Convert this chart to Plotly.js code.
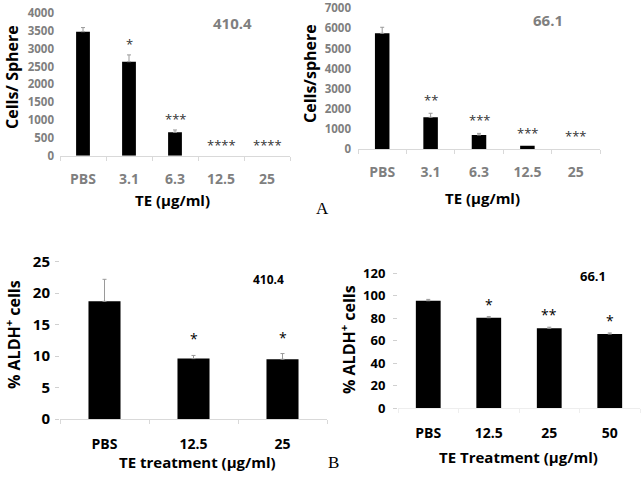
<!DOCTYPE html>
<html><head><meta charset="utf-8">
<script src="https://cdn.plot.ly/plotly-3.0.1.min.js"></script>
<style>html,body{margin:0;padding:0;background:#fff}</style>
</head><body><div id="chart" style="width:643px;height:478px"></div>
<script>
// ---- data ----
const catsA1 = ['PBS', '3.1', '6.3', '12.5', '25'];
const cellsA1 = [3476, 2635, 656, 0, 0];
const errA1 = [115, 190, 65, 0, 0];
const sigA1 = ['', '*', '***', '****', '****'];

const catsA2 = ['PBS', '3.1', '6.3', '12.5', '25'];
const cellsA2 = [5756, 1577, 697, 166, 0];
const errA2 = [300, 200, 80, 0, 0];
const sigA2 = ['', '**', '***', '***', '***'];

const catsB1 = ['PBS', '12.5', '25'];
const aldhB1 = [18.7, 9.6, 9.5];
const errB1 = [3.5, 0.5, 0.9];
const sigB1 = ['', '*', '*'];

const catsB2 = ['PBS', '12.5', '25', '50'];
const aldhB2 = [95.6, 80.5, 71.1, 66.0];
const errB2 = [1.2, 1, 1, 1];
const sigB2 = ['', '*', '**', '*'];

// ---- helpers ----
const W = 643, H = 478;
const fx = x => x / W;
const fy = y => 1 - y / H;
const FONT = 'Open Sans';
const GRAY = '#7f7f7f';

function barTrace(cats, vals, errs, xa, ya, width) {
  return {
    type: 'bar', x: cats, y: vals, xaxis: xa, yaxis: ya, width: width,
    marker: {color: '#000'},
    error_y: {type: 'data', array: errs.map(e => e > 0 ? e : NaN), symmetric: false,
      arrayminus: errs.map(e => e > 0 ? 0 : NaN),
      color: '#9a9a9a', thickness: 1, width: 2},
    showlegend: false, hoverinfo: 'skip'
  };
}

function sigAnnots(cats, vals, errs, sigs, xr, yr, shift, size, color) {
  const out = [];
  cats.forEach((c, i) => {
    if (!sigs[i]) return;
    // category index is used so numeric-looking labels are not read as positions
    out.push({xref: xr, yref: yr, x: i, y: vals[i] + errs[i], text: sigs[i], showarrow: false,
      yanchor: 'bottom', yshift: shift, font: {family: FONT, size: size, color: color}});
  });
  return out;
}

function txt(text, x, y, size, color, opts) {
  return Object.assign({xref: 'paper', yref: 'paper', x: fx(x), y: fy(y), text: text, showarrow: false,
    xanchor: 'center', yanchor: 'middle', font: {family: FONT, size: size, color: color, weight: 'bold'}}, opts || {});
}

const data = [
  barTrace(catsA1, cellsA1, errA1, 'x', 'y', 0.30),
  barTrace(catsA2, cellsA2, errA2, 'x2', 'y2', 0.30),
  barTrace(catsB1, aldhB1, errB1, 'x3', 'y3', 0.36),
  barTrace(catsB2, aldhB2, errB2, 'x4', 'y4', 0.41)
];

function xax(d, anchor, n, fsize, fcolor, standoff, linecolor) {
  return {domain: d, anchor: anchor, type: 'category', range: [-0.5, n - 0.5],
    showline: true, linecolor: linecolor, linewidth: 1,
    ticks: 'outside', tickson: 'boundaries', ticklen: 4, tickcolor: linecolor,
    tickfont: {family: FONT, size: fsize, color: fcolor, weight: 'bold'}, ticklabelstandoff: standoff,
    tickangle: 0, showgrid: false, zeroline: false, fixedrange: true};
}
function yax(d, anchor, range, dtick, fsize, fcolor, ticks, standoff) {
  return {domain: d, anchor: anchor, range: range, dtick: dtick, showline: false, showgrid: false, zeroline: false,
    ticks: ticks ? 'outside' : '', ticklen: 4, tickcolor: '#d0d0d0', ticklabelstandoff: standoff,
    tickfont: {family: FONT, size: fsize, color: fcolor, weight: 'bold'}, fixedrange: true};
}

const layout = {
  width: W, height: H, margin: {l: 0, r: 0, t: 0, b: 0},
  paper_bgcolor: '#fff', plot_bgcolor: 'rgba(0,0,0,0)',
  showlegend: false,
  xaxis: xax([fx(60), fx(290)], 'y', catsA1.length, 14, GRAY, 10, '#d9d9d9'),
  yaxis: yax([fy(155.7), fy(13)], 'x', [0, 4000], 500, 11.5, GRAY, false, 5),
  xaxis2: xax([fx(358), fx(600)], 'y2', catsA2.length, 14, GRAY, 10, '#d9d9d9'),
  yaxis2: yax([fy(149), fy(8.3)], 'x2', [0, 7000], 1000, 11.5, GRAY, false, 6),
  xaxis3: xax([fx(60), fx(327)], 'y3', catsB1.length, 14, '#000', 12, '#d9d9d9'),
  yaxis3: yax([fy(419), fy(261.7)], 'x3', [0, 25], 5, 15, '#000', true, 2),
  xaxis4: xax([fx(398), fx(640)], 'y4', catsB2.length, 14, '#000', 12, '#eeeeee'),
  yaxis4: yax([fy(408.3), fy(273.3)], 'x4', [0, 120], 20, 13, '#000', true, 5),
  annotations: [].concat(
    sigAnnots(catsA1, cellsA1, errA1, sigA1, 'x', 'y', 0, 13, '#333'),
    sigAnnots(catsA2, cellsA2, errA2, sigA2, 'x2', 'y2', 2, 13, '#333'),
    sigAnnots(catsB1, aldhB1, errB1, sigB1, 'x3', 'y3', 5, 14, '#000'),
    sigAnnots(catsB2, aldhB2, errB2, sigB2, 'x4', 'y4', 1, 14, '#000'),
    [
      txt('410.4', 232, 23, 15, GRAY),
      txt('66.1', 548, 20, 15, GRAY),
      txt('410.4', 268, 279, 12, '#000'),
      txt('66.1', 593, 276, 13, '#000'),
      txt('TE (µg/ml)', 173, 200, 15, '#000'),
      txt('TE (µg/ml)', 482, 198, 15, '#000'),
      txt('TE treatment (µg/ml)', 197, 462, 15, '#000'),
      txt('TE Treatment (µg/ml)', 518, 457, 15, '#000'),
      txt('Cells/ Sphere', 12, 77, 16, '#000', {textangle: -90}),
      txt('Cells/sphere', 310, 74, 16, '#000', {textangle: -90}),
      txt('% ALDH<sup>+</sup> cells', 13, 335, 16, '#000', {textangle: -90}),
      txt('% ALDH<sup>+</sup> cells', 348, 340, 16, '#000', {textangle: -90}),
      txt('A', 322, 208, 17, '#000', {font: {family: 'Liberation Serif', size: 17, color: '#000'}}),
      txt('B', 333, 462, 17, '#000', {font: {family: 'Liberation Serif', size: 17, color: '#000'}})
    ]
  )
};

Plotly.newPlot('chart', data, layout, {staticPlot: true, displayModeBar: false});
</script>
</body></html>
